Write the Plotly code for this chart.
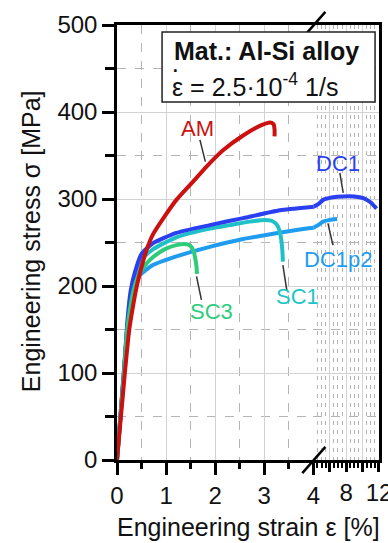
import plotly.graph_objects as go

# ---------------- data (engineering strain [%], engineering stress [MPa]) ----------------
am_strain = [0, 0.16, 0.25, 0.33, 0.40, 0.50, 0.60, 0.73, 0.97, 1.21, 1.55, 1.82, 2.16, 2.57, 2.91, 3.12, 3.19, 3.21, 3.21]
am_stress = [0, 100, 150, 178, 199, 222, 241, 259, 280, 299, 320, 337, 356, 373, 384, 388, 386, 380, 372]

dc1_strain = [0, 0.15, 0.22, 0.28, 0.36, 0.50, 0.73, 1.21, 1.89, 2.57, 3.32, 4.0, 4.6, 5.2, 6.4, 7.6, 9.0, 10.1, 11.0, 11.7]
dc1_stress = [0, 110, 165, 195, 215, 237, 249, 261, 270, 278, 287, 291, 294, 299, 302, 303, 303, 301, 296, 289]

dc1p2_strain = [0, 0.15, 0.20, 0.26, 0.35, 0.46, 0.73, 1.21, 1.89, 2.57, 2.98, 3.5, 4.0, 4.6, 5.2, 6.0, 6.9]
dc1p2_stress = [0, 105, 145, 172, 195, 212, 224, 234, 245, 254, 258, 263, 267, 270, 274, 276, 277]

sc1_strain = [0, 0.15, 0.22, 0.28, 0.36, 0.50, 0.73, 1.21, 1.89, 2.30, 2.70, 3.00, 3.15, 3.25, 3.31, 3.35, 3.37, 3.38]
sc1_stress = [0, 108, 160, 190, 209, 230, 242, 256, 266, 270, 274, 276, 275, 271, 264, 252, 240, 228]

sc3_strain = [0, 0.15, 0.20, 0.26, 0.35, 0.43, 0.55, 0.67, 0.85, 1.00, 1.21, 1.42, 1.50, 1.56, 1.60, 1.62, 1.63]
sc3_stress = [0, 105, 145, 172, 198, 211, 222, 230, 238, 243, 247, 248, 246, 240, 230, 222, 214]

series_names = ["DC1p2", "SC1", "DC1", "SC3", "AM"]
series_colors = ["#1f9cf0", "#1fc0c8", "#2a3ff0", "#2ecc7a", "#cc1010"]
series_x = [dc1p2_strain, sc1_strain, dc1_strain, sc3_strain, am_strain]
series_y = [dc1p2_stress, sc1_stress, dc1_stress, sc3_stress, am_stress]

x_right_ticks = [4, 6, 8, 10, 12]
x_right_ticktext = ["", "", "8", "", "12"]

FONT = "Liberation Sans, Arial, sans-serif"
GRID = "#d2d2d2"
GRID_DASH = "#b4b4b4"
SPLIT = 0.7493
TICKC = "black"

fig = go.Figure()
for name, col, xs, ys in zip(series_names, series_colors, series_x, series_y):
    for xa, ya in (("x", "y"), ("x2", "y2")):
        fig.add_trace(go.Scatter(
            x=xs, y=ys, mode="lines", name=name, showlegend=False,
            line=dict(color=col, width=4, shape="spline", smoothing=0.6),
            xaxis=xa, yaxis=ya, hoverinfo="skip"))

common_axis = dict(showline=True, linecolor="black", linewidth=2.5, ticks="outside",
                   tickcolor=TICKC, tickwidth=3, zeroline=False, showgrid=True,
                   gridcolor=GRID, gridwidth=1, automargin=False, ticklabeloverflow="allow",
                   tickangle=0, tickfont=dict(family=FONT, size=24, color="#111"))

def minor(dt, tl, tw, ticks="outside", dash="dash"):
    return dict(dtick=dt, tick0=0, ticks=ticks, ticklen=tl, tickwidth=tw, tickcolor=TICKC,
                showgrid=True, griddash=dash, gridcolor=GRID_DASH, gridwidth=1)

fig.update_layout(
    template="none",
    width=388, height=543, margin=dict(l=117, r=9, t=25, b=83, autoexpand=False),
    paper_bgcolor="white", plot_bgcolor="white",
    font=dict(family=FONT, color="#111"),
    xaxis=dict(domain=[0, SPLIT], range=[0, 4], tickmode="linear", tick0=0, dtick=1, ticklen=12,
               mirror=True, anchor="y", minor=minor(0.5, 6, 2.5), **common_axis),
    xaxis2=dict(domain=[SPLIT, 1], range=[4, 12], tickmode="array", tickvals=x_right_ticks,
                ticktext=x_right_ticktext, ticklen=9, mirror=True, anchor="y2",
                minor=minor(0.5, 5, 1.5, dash="4px,5px"), **common_axis),
    yaxis=dict(range=[0, 500], tickmode="linear", tick0=0, dtick=100, ticklen=12, anchor="x",
               minor=minor(50, 9, 2.5), **common_axis),
    yaxis2=dict(range=[0, 500], anchor="x2", side="right", tickmode="linear", tick0=0, dtick=100,
                showline=True, linecolor="black", linewidth=2.5, ticks="", showticklabels=False,
                zeroline=False, showgrid=True, gridcolor=GRID, gridwidth=1, automargin=False,
                minor=minor(50, 0, 0, ticks="")),
)

shapes = []
# axis-break slashes (paper coordinates around x = 4)
for yc in (0.0, 1.0):
    shapes.append(dict(type="line", xref="paper", yref="paper",
                       x0=SPLIT - 0.042, x1=SPLIT + 0.046, y0=yc - 0.030, y1=yc + 0.030,
                       line=dict(color="black", width=2.5), layer="above"))
# info box
shapes.append(dict(type="rect", xref="paper", yref="paper", x0=0.172, x1=0.985, y0=0.823, y1=0.984,
                   fillcolor="white", line=dict(color="#222", width=1.5), layer="above"))
# leader lines (axis, x0, y0, x1, y1)
leaders = [("x", 1.69, 368, 1.80, 343), ("x", 1.62, 211, 1.72, 184), ("x", 3.38, 224, 3.46, 195),
           ("x2", 7.23, 330, 7.64, 307), ("x2", 5.78, 272, 6.39, 247)]
for xa, x0, y0, x1, y1 in leaders:
    shapes.append(dict(type="line", xref=xa, yref="y", x0=x0, y0=y0, x1=x1, y1=y1,
                       line=dict(color="#333", width=1.5), layer="above"))
fig.update_layout(shapes=shapes)

labels = [("AM", "x", 1.65, 381, "#cc1010"), ("SC3", "x", 1.92, 171, "#2ecc7a"),
          ("SC1", "x", 3.68, 188, "#22c4c8"), ("DC1", "x2", 6.99, 341, "#2a3ff0"),
          ("DC1p2", "x2", 6.99, 230, "#1f9cf0")]
ann = []
for t, xa, x, y, c in labels:
    ann.append(dict(text=t, xref=xa, yref="y", x=x, y=y, showarrow=False,
                    xanchor="center", yanchor="middle",
                    font=dict(family=FONT, size=22, color=c)))
ann += [
    dict(text="<b>Mat.: Al-Si alloy</b>", xref="paper", yref="paper", x=0.569, y=0.941,
         xanchor="center", yanchor="middle", showarrow=False, font=dict(family=FONT, size=25, color="#111")),
    dict(text="\u03b5 = 2.5\u00b710<sup>-4</sup> 1/s", xref="paper", yref="paper", x=0.202, y=0.861,
         xanchor="left", yanchor="middle", showarrow=False, font=dict(family=FONT, size=25, color="#111")),
    dict(text="\u00b7", xref="paper", yref="paper", x=0.224, y=0.898,
         xanchor="center", yanchor="middle", showarrow=False, font=dict(family=FONT, size=26, color="#111")),
    dict(text="Engineering strain \u03b5 [%]", xref="paper", yref="paper", x=0.5, y=-0.155,
         xanchor="center", yanchor="middle", showarrow=False, font=dict(family=FONT, size=25, color="#111")),
    dict(text="Engineering stress \u03c3 [MPa]", xref="paper", yref="paper", x=-0.33, y=0.502,
         xanchor="center", yanchor="middle", textangle=-90, showarrow=False,
         font=dict(family=FONT, size=25, color="#111")),
]
fig.update_layout(annotations=ann)

fig.write_html("out.html")
